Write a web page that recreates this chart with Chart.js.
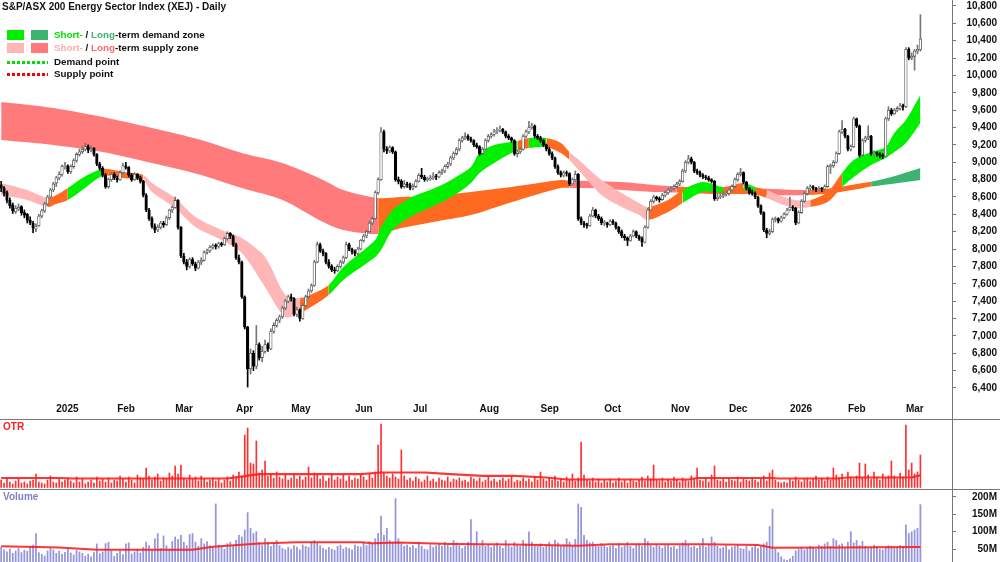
<!DOCTYPE html>
<html>
<head>
<meta charset="utf-8">
<title>XEJ Daily</title>
<script src="https://cdn.jsdelivr.net/npm/chart.js@4.4.1/dist/chart.umd.min.js"></script>
<style>
  body { margin: 0; background: #fff; }
  #wrap { position: relative; width: 1000px; height: 562px; overflow: hidden; font-family: Arial, "Liberation Sans", sans-serif; }
  .pane { position: absolute; left: 0; width: 1000px; }
  .hline { position: absolute; left: 0; width: 1000px; height: 1px; background: #777; }
  .vline { position: absolute; left: 952px; top: 0; width: 1px; height: 562px; background: #777; }
  .txt { position: absolute; white-space: nowrap; font-size: 10px; font-weight: bold; color: #111; line-height: 12px; }
  .leg { font-size: 9.8px; }
  .sw { position: absolute; width: 17px; height: 10px; }
  .dots { position: absolute; width: 41px; height: 3px; }
</style>
</head>
<body>
<div id="wrap">
  <div class="pane" style="top:0;height:419px"><canvas id="priceChart"></canvas></div>
  <div class="pane" style="top:420px;height:68px"><canvas id="otrChart"></canvas></div>
  <div class="pane" style="top:490px;height:72px"><canvas id="volChart"></canvas></div>
  <div class="hline" style="top:419px"></div>
  <div class="hline" style="top:489px"></div>
  <div class="vline"></div>

  <div class="txt" style="left:2px;top:1px">S&amp;P/ASX 200 Energy Sector Index (XEJ) - Daily</div>
  <div class="sw" style="left:7px;top:30px;background:#00f000"></div>
  <div class="sw" style="left:31px;top:30px;background:#3cb371"></div>
  <div class="txt leg" style="left:54px;top:29px"><span style="color:#00e000">Short-</span> / <span style="color:#3cb371">Long</span>-term demand zone</div>
  <div class="sw" style="left:7px;top:43px;background:#ffb6b6"></div>
  <div class="sw" style="left:31px;top:43px;background:#ff7a7a"></div>
  <div class="txt leg" style="left:54px;top:42px"><span style="color:#ffaaaa">Short-</span> / <span style="color:#ff6a6a">Long</span>-term supply zone</div>
  <div class="dots" style="left:7px;top:61px;background:repeating-linear-gradient(90deg,#00dd00 0 3px,transparent 3px 5px)"></div>
  <div class="txt leg" style="left:54px;top:56px">Demand point</div>
  <div class="dots" style="left:7px;top:73px;background:repeating-linear-gradient(90deg,#ff0000 0 3px,transparent 3px 5px)"></div>
  <div class="txt leg" style="left:54px;top:68px">Supply point</div>

  <div class="txt" style="left:3px;top:421px;color:#ff2020">OTR</div>
  <div class="txt" style="left:3px;top:491px;color:#8080c8">Volume</div>
</div>

<script>
// month tick labels and the trading-day index where each month starts
const monthLabels = ['2025', 'Feb', 'Mar', 'Apr', 'May', 'Jun', 'Jul', 'Aug', 'Sep', 'Oct', 'Nov', 'Dec', '2026', 'Feb', 'Mar'];
const monthStarts = [19, 40, 60, 81, 100, 122, 142, 165, 186, 208, 231, 251, 272, 292, 312];

const priceTicks = [6400, 6600, 6800, 7000, 7200, 7400, 7600, 7800, 8000, 8200, 8400, 8600, 8800, 9000, 9200, 9400, 9600, 9800, 10000, 10200, 10400, 10600, 10800];
const volumeTicks = [50e6, 100e6, 150e6, 200e6];
const volumeTickLabels = ['50M', '100M', '150M', '200M'];

// daily candles (Dec 2024 - Mar 2026)
const opens = [
  8740,8700,8650,8560,8510,8430,8460,8490,8420,8400,
  8330,8300,8230,8270,8380,8440,8520,8600,8680,8760,
  8820,8860,8950,8960,8890,8950,9020,9090,9120,9150,
  9180,9140,9160,9090,8980,8930,8850,8720,8800,8860,
  8820,8800,8880,8960,8940,8850,8800,8860,8820,8780,
  8620,8450,8350,8260,8220,8250,8300,8280,8360,8450,
  8480,8560,8250,7920,7850,7800,7880,7830,7780,7850,
  7870,7960,7980,8020,8040,8030,8060,8050,8120,8180,
  8150,8050,7900,7850,7450,7100,6620,6800,6650,6900,
  6750,6820,6900,6850,7050,7120,7180,7220,7320,7400,
  7450,7430,7250,7300,7200,7350,7450,7520,7580,7850,
  8050,7980,7950,7850,7800,7760,7750,7800,7850,7900,
  8050,8000,7970,7950,8000,8100,8150,8200,8300,8350,
  8650,8800,9350,9150,9130,9170,9120,8800,8780,8720,
  8750,8740,8700,8720,8780,8850,8830,8800,8810,8820,
  8840,8830,8880,8900,8950,8980,9050,9100,9150,9250,
  9280,9300,9270,9250,9200,9180,9100,9150,9250,9300,
  9320,9350,9370,9380,9350,9300,9280,9250,9100,9120,
  9150,9300,9350,9400,9420,9300,9280,9250,9200,9150,
  9100,9050,8950,8880,8850,8880,8870,8750,8800,8860,
  8350,8300,8280,8270,8380,8450,8380,8350,8300,8300,
  8280,8320,8300,8250,8200,8150,8130,8100,8150,8200,
  8150,8120,8080,8250,8450,8550,8600,8580,8570,8620,
  8650,8680,8700,8720,8750,8780,8900,9000,9040,9000,
  8900,8880,8850,8830,8820,8800,8780,8580,8600,8610,
  8630,8640,8680,8720,8800,8860,8880,8770,8700,8650,
  8640,8600,8500,8420,8220,8180,8200,8340,8350,8320,
  8360,8400,8450,8480,8470,8300,8420,8550,8640,8700,
  8720,8700,8680,8700,8690,8720,8950,8960,9000,9100,
  9350,9380,9300,9150,9180,9500,9420,9080,9250,9280,
  9300,9100,9110,9100,9080,9070,9500,9600,9560,9600,
  9620,9650,9640,10300,10200,10220,10280,10300
];
const highs = [
  8780,8720,8670,8590,8530,8500,8520,8500,8450,8410,
  8370,8320,8290,8400,8460,8540,8620,8700,8770,8840,
  8890,8970,9000,8970,8970,9040,9110,9150,9180,9220,
  9200,9190,9170,9100,9000,8950,8870,8820,8880,8880,
  8840,8900,8990,9000,8950,8870,8880,8870,8840,8790,
  8640,8470,8370,8290,8280,8320,8320,8380,8460,8500,
  8600,8570,8260,7950,7880,7900,7900,7850,7870,7900,
  7980,8000,8040,8060,8060,8080,8080,8140,8200,8190,
  8160,8070,7930,7860,7460,7110,6850,6830,7120,6920,
  6880,6950,6920,7080,7150,7200,7240,7340,7420,7470,
  7480,7440,7330,7310,7370,7470,7540,7600,7870,8080,
  8070,8000,7960,7880,7820,7790,7820,7870,7920,8080,
  8070,8010,7990,8020,8110,8170,8220,8320,8370,8670,
  8820,9400,9370,9180,9190,9180,9130,8830,8800,8790,
  8770,8760,8750,8800,8870,8930,8850,8830,8850,8880,
  8860,8900,8920,8970,9000,9070,9120,9170,9270,9300,
  9340,9320,9290,9260,9220,9190,9170,9270,9320,9340,
  9380,9400,9420,9390,9360,9320,9290,9260,9140,9170,
  9320,9370,9470,9450,9430,9320,9300,9260,9210,9170,
  9120,9060,8970,8900,8900,8900,8880,8820,8900,8870,
  8370,8320,8300,8400,8480,8460,8400,8370,8330,8310,
  8340,8340,8310,8260,8220,8170,8140,8170,8220,8210,
  8160,8140,8270,8470,8570,8620,8610,8600,8640,8670,
  8700,8720,8740,8770,8800,8920,9020,9080,9060,9010,
  8920,8900,8870,8850,8840,8810,8790,8630,8640,8660,
  8670,8700,8740,8820,8880,8930,8890,8780,8710,8680,
  8660,8610,8510,8430,8240,8230,8360,8370,8360,8380,
  8420,8470,8600,8500,8480,8440,8570,8660,8720,8740,
  8730,8710,8720,8710,8740,8970,8980,9020,9120,9370,
  9480,9390,9310,9200,9520,9510,9430,9270,9300,9420,
  9310,9130,9120,9110,9100,9520,9640,9620,9620,9640,
  9680,9670,10320,10320,10260,10300,10350,10700
];
const lows = [
  8660,8610,8530,8470,8410,8410,8440,8390,8360,8300,
  8280,8190,8200,8260,8360,8420,8500,8580,8660,8720,
  8800,8840,8920,8870,8870,8930,9000,9070,9100,9130,
  9110,9120,9070,8960,8910,8830,8700,8700,8780,8800,
  8770,8790,8860,8920,8830,8780,8790,8800,8760,8600,
  8430,8330,8240,8190,8200,8230,8250,8270,8340,8420,
  8470,8230,7900,7830,7760,7780,7810,7750,7770,7820,
  7860,7940,7960,8000,8000,8010,8030,8040,8100,8120,
  8030,7880,7830,7430,7080,6410,6560,6600,6620,6720,
  6700,6800,6820,6840,7030,7100,7150,7200,7300,7380,
  7400,7230,7220,7170,7190,7330,7430,7500,7570,7840,
  7960,7920,7830,7780,7740,7720,7740,7780,7830,7890,
  7980,7940,7920,7930,7990,8080,8130,8190,8280,8340,
  8630,8790,9120,9100,9110,9100,8780,8750,8700,8700,
  8710,8680,8680,8710,8770,8810,8780,8780,8790,8800,
  8800,8820,8860,8880,8930,8960,9030,9080,9130,9230,
  9260,9250,9230,9180,9160,9080,9090,9140,9230,9280,
  9300,9330,9350,9330,9280,9260,9230,9080,9060,9100,
  9140,9280,9330,9380,9280,9260,9230,9180,9130,9080,
  9030,8930,8860,8830,8830,8840,8730,8740,8780,8330,
  8280,8250,8240,8260,8370,8360,8330,8280,8270,8250,
  8270,8280,8230,8180,8130,8100,8040,8090,8140,8130,
  8100,8030,8070,8240,8440,8530,8560,8540,8560,8600,
  8630,8660,8680,8700,8730,8770,8880,8980,8980,8880,
  8860,8830,8810,8800,8780,8760,8560,8560,8580,8590,
  8610,8620,8660,8710,8780,8840,8750,8680,8630,8620,
  8580,8480,8400,8200,8130,8160,8190,8310,8300,8310,
  8350,8390,8440,8440,8280,8290,8410,8540,8620,8680,
  8680,8660,8670,8660,8680,8710,8870,8940,8990,9090,
  9330,9280,9130,9130,9170,9400,9060,9070,9230,9260,
  9080,9080,9070,9050,9040,9060,9480,9540,9550,9580,
  9600,9600,9630,10180,10180,10060,10250,10280
];
const closes = [
  8700,8640,8560,8500,8440,8470,8480,8420,8390,8330,
  8300,8240,8260,8380,8440,8520,8600,8680,8750,8820,
  8860,8950,8960,8890,8950,9020,9090,9120,9150,9180,
  9140,9160,9090,8980,8930,8850,8720,8800,8860,8820,
  8800,8880,8960,8940,8850,8800,8860,8820,8780,8620,
  8450,8350,8260,8220,8250,8300,8280,8360,8450,8480,
  8560,8250,7920,7850,7800,7880,7830,7780,7850,7870,
  7960,7980,8020,8040,8030,8060,8050,8120,8180,8150,
  8050,7900,7850,7450,7100,6620,6800,6650,6900,6750,
  6820,6900,6850,7050,7120,7180,7220,7320,7400,7450,
  7430,7250,7300,7200,7350,7450,7520,7580,7850,8050,
  7980,7950,7850,7800,7760,7750,7800,7850,7900,8050,
  8000,7970,7950,8000,8100,8150,8200,8300,8350,8650,
  8800,9350,9150,9130,9170,9120,8800,8780,8720,8750,
  8740,8700,8720,8780,8850,8830,8800,8810,8820,8840,
  8830,8880,8900,8950,8980,9050,9100,9150,9250,9280,
  9300,9270,9250,9200,9180,9100,9150,9250,9300,9320,
  9350,9370,9380,9350,9300,9280,9250,9100,9120,9150,
  9300,9350,9400,9420,9300,9280,9250,9200,9150,9100,
  9050,8950,8880,8850,8880,8870,8750,8800,8860,8350,
  8300,8280,8270,8380,8450,8380,8350,8300,8300,8280,
  8320,8300,8250,8200,8150,8130,8100,8150,8200,8150,
  8120,8080,8250,8450,8550,8600,8580,8570,8620,8650,
  8680,8700,8720,8750,8780,8900,9000,9040,9000,8900,
  8880,8850,8830,8820,8800,8780,8580,8600,8610,8630,
  8640,8680,8720,8800,8860,8880,8770,8700,8650,8640,
  8600,8500,8420,8220,8180,8200,8340,8350,8320,8360,
  8400,8450,8480,8470,8300,8420,8550,8640,8700,8720,
  8700,8680,8700,8690,8720,8950,8960,9000,9100,9350,
  9380,9300,9150,9180,9500,9420,9080,9250,9280,9300,
  9100,9110,9100,9080,9070,9500,9600,9560,9600,9620,
  9650,9640,10300,10200,10220,10280,10300,10420
];

// short-term zone: day index, upper / lower edge, state (d demand, s supply, n neutral)
const shortIdx  = [0, 9, 16, 19, 23, 28, 35, 42, 49, 52, 60, 67, 76, 83, 91, 98, 103, 108, 113, 118, 129, 131, 135, 141, 146, 152, 158, 162, 165, 170, 176, 178, 182, 188, 193, 196, 200, 207, 214, 220, 223, 230, 235, 242, 249, 256, 260, 264, 268, 274, 279, 285, 290, 294, 300, 305, 308, 312, 317];
const shortHi   = [8761, 8680, 8588, 8623, 8703, 8819, 8922, 8888, 8853, 8761, 8588, 8369, 8220, 8127, 7908, 7471, 7436, 7494, 7586, 7793, 8104, 8254, 8450, 8588, 8657, 8738, 8853, 8945, 9107, 9199, 9233, 9245, 9279, 9279, 9222, 9118, 9003, 8796, 8646, 8531, 8485, 8565, 8680, 8772, 8715, 8761, 8715, 8680, 8623, 8565, 8565, 8657, 8876, 9026, 9118, 9176, 9337, 9487, 9775];
const shortLo   = [8623, 8565, 8485, 8519, 8565, 8680, 8842, 8819, 8784, 8657, 8473, 8254, 8104, 7955, 7563, 7217, 7263, 7356, 7471, 7644, 7908, 7989, 8220, 8369, 8450, 8542, 8657, 8761, 8876, 8991, 9107, 9130, 9164, 9176, 9107, 9026, 8876, 8623, 8485, 8392, 8335, 8427, 8531, 8657, 8646, 8680, 8634, 8588, 8531, 8473, 8485, 8542, 8715, 8830, 8968, 9049, 9118, 9222, 9452];
const shortZone = ['s', 's', 'n', 'n', 'd', 'd', 'n', 'n', 's', 's', 's', 's', 's', 's', 's', 's', 'n', 'n', 'd', 'd', 'd', 'd', 'd', 'd', 'd', 'd', 'd', 'd', 'd', 'd', 'd', 'n', 'd', 'n', 'n', 's', 's', 's', 's', 's', 'n', 'n', 'd', 'd', 'n', 'd', 'n', 's', 's', 's', 'n', 'n', 'd', 'd', 'd', 'd', 'd', 'd', 'd'];

// long-term zone
const longIdx  = [0, 18, 35, 52, 69, 83, 97, 111, 118, 130, 138, 149, 162, 173, 183, 193, 196, 204, 214, 225, 233, 245, 258, 266, 278, 287, 297, 300, 307, 317];
const longHi   = [9694, 9625, 9521, 9395, 9256, 9107, 8991, 8796, 8680, 8588, 8600, 8611, 8657, 8703, 8750, 8796, 8790, 8784, 8772, 8738, 8720, 8703, 8703, 8692, 8680, 8703, 8760, 8775, 8830, 8934];
const longLo   = [9256, 9199, 9118, 8991, 8853, 8703, 8565, 8312, 8220, 8173, 8243, 8312, 8392, 8508, 8611, 8703, 8703, 8703, 8680, 8657, 8650, 8634, 8634, 8623, 8623, 8646, 8700, 8720, 8750, 8796];
const longZone = ['s', 's', 's', 's', 's', 's', 's', 's', 's', 'n', 'n', 'n', 'n', 'n', 'n', 'n', 's', 's', 's', 's', 'n', 'n', 's', 's', 'n', 'n', 'n', 'd', 'd', 'd'];

// OTR per day
const otr = [
  0.8,0.5,1.0,0.6,0.4,0.7,0.9,0.5,0.6,0.4,
  0.7,0.8,1.4,0.6,0.5,0.4,0.8,1.2,0.6,0.5,
  0.9,0.6,0.8,1.0,0.7,0.5,1.1,0.6,0.9,0.4,
  0.6,0.8,0.5,1.1,0.7,0.9,0.6,1.0,0.5,0.8,
  0.7,1.2,0.9,0.6,1.1,0.8,0.5,1.3,1.0,0.9,
  2.0,1.2,0.8,1.1,1.4,0.7,1.0,0.9,1.5,1.2,
  2.2,1.4,2.3,1.0,0.8,1.3,0.9,1.1,0.7,1.2,
  0.9,0.6,0.8,1.0,0.7,0.9,0.5,0.8,1.1,0.7,
  1.3,1.1,1.6,1.2,5.3,6.0,2.5,2.4,4.7,1.5,
  1.8,2.7,1.2,1.4,1.0,1.6,1.1,0.9,1.3,0.8,
  1.0,1.4,0.9,1.2,0.8,1.1,2.1,1.0,1.5,1.3,
  0.9,1.2,0.7,1.0,1.4,0.8,1.1,0.9,1.3,0.7,
  1.2,0.8,1.0,0.9,1.3,1.1,0.8,1.4,1.0,1.6,
  4.3,6.4,1.5,1.2,1.0,1.4,1.1,0.9,3.8,1.2,
  0.8,1.0,0.7,1.1,0.9,0.6,0.8,1.2,0.7,0.9,
  0.6,1.0,0.8,0.7,1.1,0.6,0.9,0.8,1.0,0.7,
  0.8,0.6,1.1,0.9,0.7,1.0,0.6,0.8,1.2,0.7,
  0.9,0.6,0.8,1.0,0.7,0.9,1.1,0.6,0.8,0.7,
  1.0,0.7,0.9,0.6,1.1,0.8,1.6,0.9,0.7,1.0,
  0.8,1.2,0.7,0.9,0.6,1.1,0.8,1.4,0.7,1.0,
  4.6,1.3,0.8,0.7,1.0,0.6,0.9,0.5,0.8,0.6,
  0.9,0.5,0.7,1.0,0.6,0.8,0.5,0.9,0.7,0.6,
  0.8,1.1,0.7,1.2,0.9,2.3,0.8,0.7,1.0,0.6,
  0.9,0.7,1.1,0.8,0.6,1.0,0.8,0.7,1.2,0.9,
  2.0,0.8,0.7,1.0,0.6,1.3,2.2,0.8,0.7,0.9,
  0.6,1.0,0.8,0.7,1.1,0.6,0.9,0.8,0.7,1.0,
  0.8,0.6,0.9,1.2,0.7,1.5,1.8,0.8,0.6,0.5,
  0.6,0.5,0.9,0.7,1.1,0.8,0.6,0.9,1.0,0.7,
  0.9,1.2,0.8,1.0,0.7,1.1,0.8,2.0,1.3,1.0,
  1.4,0.8,1.6,1.1,0.9,1.2,2.5,1.0,2.4,1.3,
  0.9,1.6,1.1,0.8,1.4,1.0,1.2,2.7,1.2,0.9,
  1.5,1.1,6.3,1.8,2.5,1.4,1.6,3.3
];
const otrAvgIdx = [0, 20, 25, 78, 84, 89, 124, 131, 146, 155, 166, 177, 188, 195, 237, 240, 266, 268, 288, 292, 314, 317];
const otrAvg    = [1.0, 1.0, 0.95, 0.95, 1.18, 1.39, 1.39, 1.55, 1.55, 1.39, 1.22, 1.22, 1.05, 0.85, 0.85, 1.0, 1.0, 0.95, 0.95, 1.05, 1.05, 1.28];

// volume per day, millions
const volume = [
  55,48,42,50,38,45,52,40,47,44,
  58,62,95,40,35,30,45,52,48,38,
  44,36,41,50,39,33,47,42,38,30,
  35,28,40,65,37,42,66,70,45,29,
  38,45,34,65,68,36,42,50,39,55,
  70,60,48,80,95,52,88,60,50,72,
  85,78,90,70,60,92,95,70,58,80,
  65,72,60,55,180,62,58,50,66,70,
  60,75,90,85,105,155,110,95,100,70,
  62,80,70,58,66,75,60,52,48,55,
  50,60,56,48,62,58,55,70,75,68,
  60,52,48,55,50,47,58,62,50,55,
  52,48,62,58,56,70,60,72,65,80,
  95,145,90,110,75,70,195,80,65,58,
  62,55,60,52,70,58,50,48,62,55,
  60,65,58,70,62,55,75,68,60,52,
  58,70,135,65,100,60,75,58,62,55,
  60,68,58,52,75,60,56,70,62,58,
  75,65,100,70,60,58,66,55,62,70,
  60,75,68,58,62,80,70,60,78,180,
  170,90,75,68,70,60,58,66,62,55,
  58,60,52,66,55,60,70,58,52,62,
  65,58,80,72,60,55,62,58,52,60,
  62,55,58,50,60,68,75,62,55,58,
  52,60,80,56,62,85,70,58,52,55,
  60,48,55,58,62,52,50,58,45,55,
  60,52,58,65,70,115,165,50,40,28,
  20,18,22,30,45,50,55,48,52,58,
  55,50,62,58,65,70,58,80,75,62,
  65,55,70,100,68,75,60,72,58,52,
  55,62,58,50,48,55,60,58,52,56,
  60,58,120,95,100,105,110,178
];
const volAvgIdx = [0, 20, 33, 66, 73, 89, 102, 124, 128, 137, 155, 177, 199, 210, 243, 261, 266, 288, 317];
const volAvg    = [58, 55, 48, 48, 57, 66, 70, 70, 67, 69, 65, 63, 60, 64, 64, 62, 54, 55, 56];

const shortColors = { d: '#00f000', n: '#ff6a21', s: '#ffb6b6' };
const longColors  = { d: '#3cb371', n: '#ff6a21', s: '#ff7a7a' };

const tickFont = { family: 'Arial, "Liberation Sans", sans-serif', size: 10, weight: 'bold' };

// shared day axis so the three panes line up
function dayAxis(show) {
  return {
    type: 'linear', min: -0.4, max: 327.9, offset: false, display: show,
    grid: { display: false, drawTicks: false },
    border: { display: false },
    afterBuildTicks: s => { s.ticks = monthStarts.map(v => ({ value: v })); },
    afterFit: s => {
      s.height = show ? 19 : 0;
      s.paddingLeft = 0;
      s.paddingRight = 0;
    },
    ticks: {
      autoSkip: false, maxRotation: 0, align: 'start', padding: 3,
      color: '#111', font: tickFont,
      callback: (v, i) => monthLabels[i]
    }
  };
}

function rightAxis(extra) {
  return Object.assign({
    type: 'linear', position: 'right',
    afterFit: s => {
      s.width = 45;
      s.paddingTop = 0;
      s.paddingBottom = 0;
    },
    grid: { drawOnChartArea: false, drawTicks: true, tickLength: 4, color: '#777' },
    border: { display: false }
  }, extra);
}

function bandPair(idx, hi, lo, zone, colors, order) {
  return [
    { type: 'line', data: idx.map((x, k) => ({ x, y: hi[k] })), borderColor: 'transparent', borderWidth: 0,
      pointRadius: 0, fill: false, tension: 0.3, order },
    { type: 'line', data: idx.map((x, k) => ({ x, y: lo[k] })), borderColor: 'transparent', borderWidth: 0,
      pointRadius: 0, tension: 0.3, order, fill: '-1', backgroundColor: colors[zone[0]],
      segment: { backgroundColor: c => colors[zone[c.p0DataIndex]] } }
  ];
}

const baseOptions = {
  responsive: true,
  maintainAspectRatio: false,
  animation: false,
  layout: { padding: { right: 3, left: 0, top: 0, bottom: 0 } },
  plugins: { legend: { display: false }, tooltip: { enabled: false } }
};

new Chart(document.getElementById('priceChart'), {
  type: 'bar',
  data: {
    datasets: [
      ...bandPair(longIdx, longHi, longLo, longZone, longColors, 10),
      ...bandPair(shortIdx, shortHi, shortLo, shortZone, shortColors, 9),
      {
        type: 'bar',
        data: closes.map((c, i) => ({ x: i, y: [lows[i], highs[i]] })),
        backgroundColor: closes.map((c, i) => c >= opens[i] ? '#777' : '#000'),
        barThickness: 1, grouped: false, order: 2
      },
      {
        type: 'bar',
        data: closes.map((c, i) => ({ x: i, y: [opens[i], c] })),
        backgroundColor: closes.map((c, i) => c >= opens[i] ? '#fff' : '#000'),
        borderColor: closes.map((c, i) => c >= opens[i] ? '#555' : '#000'),
        borderWidth: 0.8, borderSkipped: false, barThickness: 2.6, minBarLength: 1,
        grouped: false, order: 1
      }
    ]
  },
  options: {
    ...baseOptions,
    scales: {
      x: dayAxis(true),
      y: rightAxis({
        min: 6261, max: 10869,
        afterBuildTicks: s => { s.ticks = priceTicks.map(v => ({ value: v })); },
        ticks: { crossAlign: 'far', padding: 0, color: '#111', font: tickFont,
          callback: v => v.toLocaleString('en-US') }
      })
    }
  }
});

new Chart(document.getElementById('otrChart'), {
  type: 'bar',
  data: {
    datasets: [
      { type: 'line', data: otrAvgIdx.map((x, k) => ({ x, y: otrAvg[k] })), borderColor: 'rgba(255,30,30,0.9)',
        borderWidth: 2.2, pointRadius: 0, tension: 0, order: 1 },
      { type: 'bar', data: otr.map((v, i) => ({ x: i, y: v })), backgroundColor: '#ff3030',
        barThickness: 1, grouped: false, order: 2 }
    ]
  },
  options: {
    ...baseOptions,
    scales: {
      x: dayAxis(false),
      y: rightAxis({
        min: 0, max: 6.8,
        grid: { drawOnChartArea: false, drawTicks: false },
        ticks: { display: false }
      })
    }
  }
});

new Chart(document.getElementById('volChart'), {
  type: 'bar',
  data: {
    datasets: [
      { type: 'line', data: volAvgIdx.map((x, k) => ({ x, y: volAvg[k] * 1e6 })), borderColor: 'rgba(255,30,30,0.9)',
        borderWidth: 2, pointRadius: 0, tension: 0, order: 1 },
      { type: 'bar', data: volume.map((v, i) => ({ x: i, y: v * 1e6 })), backgroundColor: '#9595dc',
        barThickness: 1.1, grouped: false, order: 2 }
    ]
  },
  options: {
    ...baseOptions,
    scales: {
      x: dayAxis(false),
      y: rightAxis({
        min: 13e6, max: 220e6,
        afterBuildTicks: s => { s.ticks = volumeTicks.map(v => ({ value: v })); },
        ticks: { crossAlign: 'far', padding: 0, color: '#111', font: tickFont,
          callback: (v, i) => volumeTickLabels[i] }
      })
    }
  }
});
</script>
</body>
</html>
